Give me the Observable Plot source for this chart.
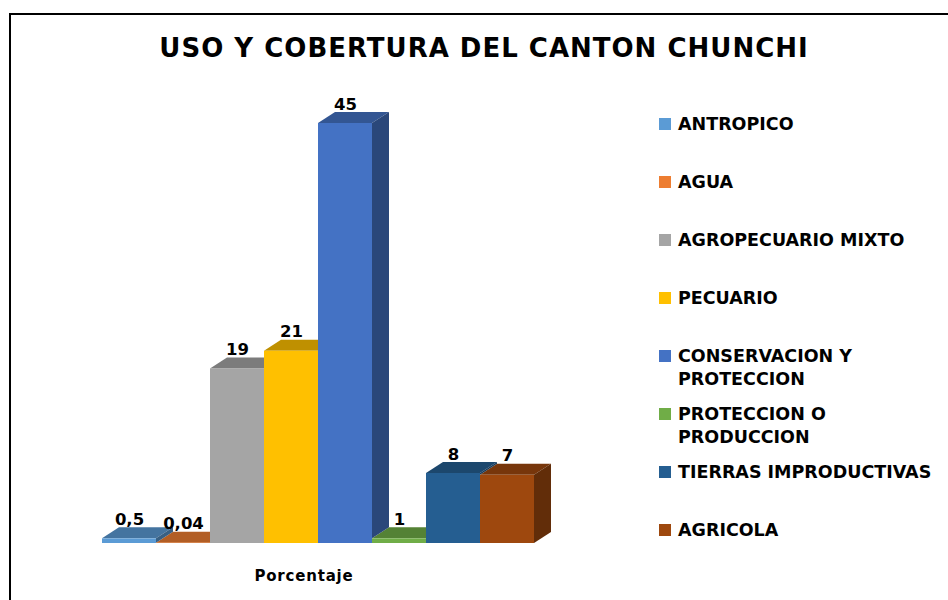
<!DOCTYPE html>
<html>
<head>
<meta charset="utf-8">
<script src="https://cdn.jsdelivr.net/npm/d3@7"></script>
<script src="https://cdn.jsdelivr.net/npm/@observablehq/plot@0.6"></script>
<style>
  body { margin: 0; background: #fff; }
  #wrap { position: relative; width: 948px; height: 600px; overflow: hidden; font-family: "DejaVu Sans", sans-serif; font-weight: bold; color: #000; }
  #chart { position: absolute; left: 0; top: 0; }
  #frame { position: absolute; left: 9px; top: 13px; width: 980px; height: 640px; border-left: 2px solid #000; border-top: 2px solid #000; }
  #title { position: absolute; left: 0; width: 968px; top: 35px; text-align: center; font-size: 26px; line-height: 26px; letter-spacing: 1px; white-space: nowrap; }
  #xlabel { position: absolute; left: 204px; width: 200px; top: 569px; text-align: center; font-size: 15px; line-height: 15px; letter-spacing: 0.8px; }
  .item { position: absolute; left: 659px; width: 300px; }
  .sw { position: absolute; left: 0; top: 5px; width: 12px; height: 12px; }
  .txt { position: absolute; left: 19px; width: 275px; font-size: 17.5px; line-height: 23px; }
</style>
</head>
<body>
<div id="wrap">
  <div id="chart"></div>
  <div id="frame"></div>
  <div id="title"></div>
  <div id="xlabel"></div>
  <div id="legend"></div>
</div>
<script>
const title = "USO Y COBERTURA DEL CANTON CHUNCHI";
const xLabel = "Porcentaje";
const categories = ["ANTROPICO", "AGUA", "AGROPECUARIO MIXTO", "PECUARIO", "CONSERVACION Y PROTECCION", "PROTECCION O PRODUCCION", "TIERRAS IMPRODUCTIVAS", "AGRICOLA"];
const values = [0.5, 0.04, 18.7, 20.6, 45, 0.5, 7.5, 7.3];
const labels = ["0,5", "0,04", "19", "21", "45", "1", "8", "7"];
const colors = ["#5B9BD5", "#ED7D31", "#A5A5A5", "#FFC000", "#4472C4", "#70AD47", "#255E91", "#9E480E"];

const data = categories.map((c, i) => ({cat: c, value: values[i], label: labels[i]}));
const DX = 17, DY = 11;
const colorOf = new Map(categories.map((c, i) => [c, colors[i]]));
function shade(c, k) { const o = d3.rgb(c); return d3.rgb(o.r * k, o.g * k, o.b * k).formatHex(); }

function faces(index, scales) {
  const x = scales.x, y = scales.y;
  const bw = x.bandwidth ? x.bandwidth() : (x(categories[1]) - x(categories[0]));
  const g = d3.create("svg:g");
  for (let i = data.length - 1; i >= 0; --i) {
    const d = data[i], c = colorOf.get(d.cat);
    const x0 = x(d.cat), x1 = x0 + bw, y0 = y(0), yt = y(d.value);
    g.append("path")
      .attr("d", `M${x0},${yt}L${x1},${yt}L${x1 + DX},${yt - DY}L${x0 + DX},${yt - DY}Z`)
      .attr("fill", shade(c, 0.75));
    const next = data[i + 1];
    let yb = null;
    if (!next) yb = y0;
    else if (next.value < d.value) yb = y(next.value);
    if (yb !== null) {
      g.append("path")
        .attr("d", `M${x1},${yb}L${x1},${yt}L${x1 + DX},${yt - DY}L${x1 + DX},${yb - DY}Z`)
        .attr("fill", shade(c, 0.62));
    }
  }
  return g.node();
}

const plot = Plot.plot({
  width: 948,
  height: 600,
  marginLeft: 99,
  marginRight: 411,
  marginTop: 123,
  marginBottom: 57,
  style: {background: "transparent"},
  x: {domain: categories, padding: 0, axis: null},
  y: {domain: [0, 45], axis: null},
  color: {domain: categories, range: colors},
  marks: [
    faces,
    Plot.barY(data, {x: "cat", y: "value", fill: "cat"}),
    Plot.text(data, {x: "cat", y: "value", text: "label", lineAnchor: "bottom", dy: -14,
      fontSize: 16.5, fontWeight: "bold", fontFamily: "DejaVu Sans", fill: "#000"})
  ]
});
document.getElementById("chart").appendChild(plot);

document.getElementById("title").textContent = title;
document.getElementById("xlabel").textContent = xLabel;

const legend = document.getElementById("legend");
categories.forEach((c, i) => {
  const item = document.createElement("div");
  item.className = "item";
  item.style.top = (113.4 + 57.9 * i) + "px";
  const sw = document.createElement("div");
  sw.className = "sw";
  sw.style.background = colors[i];
  const t = document.createElement("div");
  t.className = "txt";
  t.textContent = c;
  item.appendChild(sw);
  item.appendChild(t);
  legend.appendChild(item);
});
</script>
</body>
</html>
